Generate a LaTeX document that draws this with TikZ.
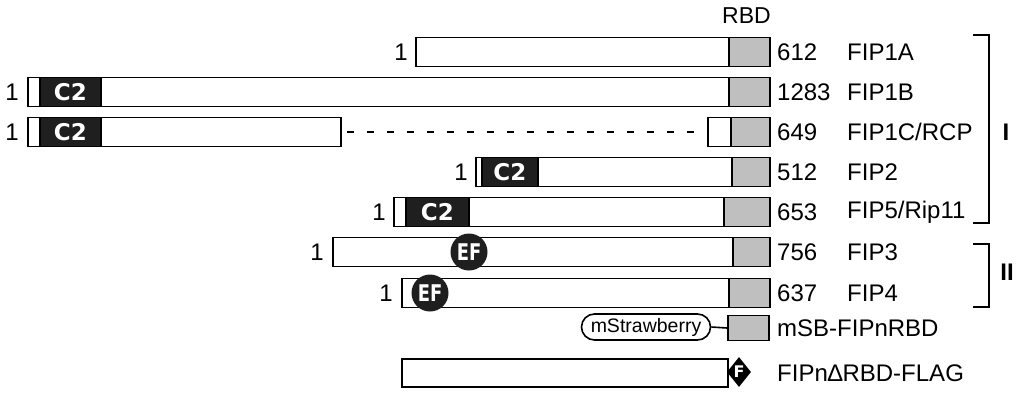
\documentclass[tikz,border=0pt]{standalone}
\usepackage{fontspec}
\usepackage{graphicx}
\setmainfont{Liberation Sans}
\newfontfamily\heavyfont{DejaVu Sans}
\usetikzlibrary{shapes.geometric,shapes.misc}
\tikzset{
  seg/.style={draw, line width=1.8, fill=white, minimum height=29, inner sep=0, anchor=west},
  rbd/.style={seg, fill=black!25},
  ctwo/.style={seg, draw=black, fill=black!88, text=white,
    font=\heavyfont\fontsize{23}{23}\selectfont\bfseries},
  efhand/.style={circle, fill=black!88, minimum size=37, inner sep=0, text=white,
    font=\heavyfont\fontsize{23}{23}\selectfont\bfseries},
  lbl/.style={inner sep=0, anchor=west, font=\fontsize{24}{24}\selectfont},
  startlbl/.style={inner sep=0, anchor=east, font=\fontsize{24}{24}\selectfont},
  bracket/.style={line width=2.6},
  roman/.style={inner sep=0, font=\fontsize{24}{24}\selectfont\bfseries},
}
\newcommand{\efmark}{\scalebox{0.78}[1]{EF}}
\begin{document}
\begin{tikzpicture}[x=1pt, y=-1pt]
\useasboundingbox (0,0) rectangle (1017,394);

% RBD column heading
\node[inner sep=0, anchor=east, font=\fontsize{23}{23}\selectfont] (rbdhead) at (771,16) {RBD};

% FIP1A
\node[seg, minimum width=313] (a) at (415,52) {};
\node[rbd, minimum width=41] (ar) at (728,52) {};
\node[startlbl] (a1) at (408,52) {1};
\node[lbl] (an) at (777,52) {612};
\node[lbl] (al) at (847,52) {FIP1A};

% FIP1B
\node[seg, minimum width=701] (b) at (27,92) {};
\node[ctwo, minimum width=61] (bc) at (39,92) {C2};
\node[rbd, minimum width=41] (br) at (728,92) {};
\node[startlbl] (b1) at (19,92) {1};
\node[lbl] (bn) at (777,92) {1283};
\node[lbl] (bl) at (847,92) {FIP1B};

% FIP1C/RCP
\node[seg, minimum width=313] (c) at (27,132) {};
\node[ctwo, minimum width=61] (cc) at (39,132) {C2};
\node[seg, minimum width=23] (cs) at (707,132) {};
\node[rbd, minimum width=39] (cr) at (730,132) {};
\draw[line width=2, dash pattern=on 7pt off 13pt, dash phase=-5pt] (c.east) -- (cs.west);
\node[startlbl] (c1) at (19,132) {1};
\node[lbl] (cn) at (777,132) {649};
\node[lbl] (cl) at (847,132) {FIP1C/RCP};

% FIP2
\node[seg, minimum width=256] (d) at (475,172) {};
\node[ctwo, minimum width=56] (dc) at (481,172) {C2};
\node[rbd, minimum width=38] (dr) at (731,172) {};
\node[startlbl] (d1) at (468,172) {1};
\node[lbl] (dn) at (777,172) {512};
\node[lbl] (dl) at (847,172) {FIP2};

% FIP5/Rip11
\node[seg, minimum width=330] (e) at (393,212) {};
\node[ctwo, minimum width=63] (ec) at (405,212) {C2};
\node[rbd, minimum width=46] (er) at (723,212) {};
\node[startlbl] (e1) at (386,212) {1};
\node[lbl] (en) at (777,212) {653};
\node[lbl] (el) at (847,212) {FIP5/Rip11};

% FIP3
\node[seg, minimum width=400] (f) at (332,252) {};
\node[rbd, minimum width=37] (fr) at (732,252) {};
\node[efhand] (fe) at (469,252) {\efmark};
\node[startlbl] (f1) at (324,252) {1};
\node[lbl] (fn) at (777,252) {756};
\node[lbl] (fl) at (847,252) {FIP3};

% FIP4
\node[seg, minimum width=327] (g) at (401,293) {};
\node[rbd, minimum width=41] (gr) at (728,293) {};
\node[efhand] (ge) at (430,293) {\efmark};
\node[startlbl] (g1) at (393,293) {1};
\node[lbl] (gn) at (777,293) {637};
\node[lbl] (gl) at (847,293) {FIP4};

% mStrawberry fusion
\node[rounded rectangle, draw, line width=1.6, minimum width=133, minimum height=26,
  inner xsep=2, inner ysep=0, font=\fontsize{19.5}{19.5}\selectfont] (m) at (646,327) {mStrawberry};
\node[rbd, minimum width=41, minimum height=25] (mr) at (727,328) {};
\draw[line width=1.6] (m.east) -- (mr.west);
\node[lbl] (ml) at (777,328) {mSB-FIPnRBD};

% FLAG-tagged construct
\node[seg, minimum width=326, minimum height=28] (h) at (401,373) {};
\node[diamond, fill=black, minimum width=24, minimum height=30, inner sep=0,
  text=white, font=\heavyfont\fontsize{16}{16}\selectfont\bfseries] (hf) at (739,372) {F};
\node[lbl] (hl) at (777,373) {FIPn∆RBD-FLAG};

% class brackets
\draw[bracket] (973,35) -- (989,35) -- (989,223) -- (973,223);
\draw[bracket] (973,244) -- (989,244) -- (989,307) -- (973,307);
\node[roman] (cls1) at (1006,132) {I};
\node[roman] (cls2) at (1007,272) {II};
\end{tikzpicture}
\end{document}
